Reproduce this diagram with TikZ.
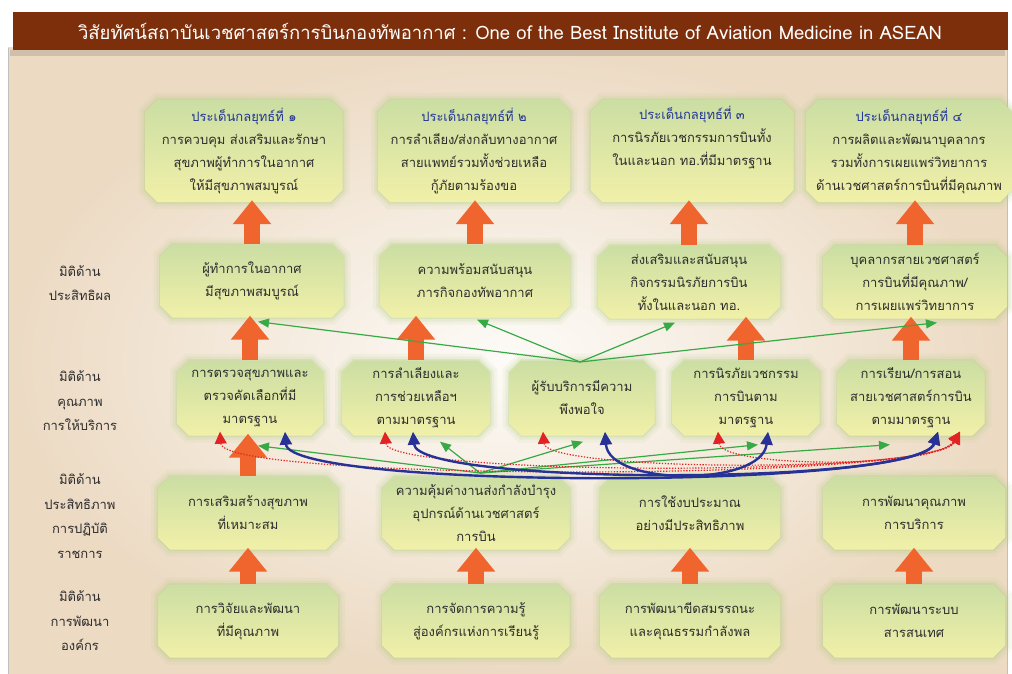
\documentclass[tikz,border=0pt]{standalone}
\usepackage{fontspec}
\newfontfamily\thaifont[Script=Thai]{Loma}
\usetikzlibrary{shapes.misc,arrows.meta,calc}
\definecolor{titlebar}{RGB}{125,47,12}
\definecolor{bgedge}{RGB}{236,218,195}
\definecolor{bgcenter}{RGB}{253,251,248}
\definecolor{boxtop}{RGB}{203,222,163}
\definecolor{boxbot}{RGB}{241,240,168}
\definecolor{glowc}{RGB}{175,205,125}
\definecolor{headblue}{RGB}{35,55,150}
\definecolor{txt}{RGB}{45,45,45}
\definecolor{arrorange}{RGB}{240,100,45}
\definecolor{lgreen}{RGB}{55,170,70}
\definecolor{dblue}{RGB}{40,50,150}
\definecolor{dred}{RGB}{225,35,35}
\newcommand\bodyfont{\thaifont\fontsize{13}{23}\selectfont}
\begin{document}
\begin{tikzpicture}[x=1pt,y=-1pt,
  box/.style={chamfered rectangle, chamfered rectangle xsep=9pt,
    top color=boxtop, bottom color=boxbot, draw=none, align=center,
    font=\bodyfont, text=txt, inner sep=1pt,
    preaction={draw=glowc, line width=14pt, draw opacity=0.10},
    preaction={draw=glowc, line width=8pt, draw opacity=0.14},
    preaction={draw=glowc, line width=3pt, draw opacity=0.25}},
  r1/.style={box, minimum height=102pt},
  r2/.style={box, minimum height=73pt},
  r3/.style={box, minimum height=75pt},
  lab/.style={align=center, text=txt, font=\thaifont\fontsize{13}{24.5}\selectfont},
  oarr/.style={arrorange, line width=16pt, -{Triangle[width=37pt,length=24pt]}},
  garr/.style={lgreen, line width=1.2pt, -{Triangle[width=9pt,length=11pt]}},
  barr/.style={dblue, line width=2.4pt, {Triangle[width=12pt,length=13pt]}-{Triangle[width=12pt,length=13pt]}},
  rarr/.style={dred, line width=1.2pt, dash pattern=on 1.3pt off 1.6pt,
    {Triangle[width=12pt,length=12pt]}-{Triangle[width=12pt,length=12pt]}}
]
\useasboundingbox (0,0) rectangle (1012,674);
\fill[white] (0,0) rectangle (1012,674);
\shade[inner color=bgcenter, outer color=bgedge] (8,48) rectangle (1007,674);
\draw[black!25, line width=1pt] (8,48) -- (8,674) (1007,48) -- (1007,674);
\fill[black, opacity=0.12] (10,50) rectangle (1005,56);
\node[fill=titlebar, minimum width=995pt, minimum height=38pt, inner sep=0pt,
  text=white, font=\thaifont\fontsize{18.5}{20}\selectfont] (title) at (510,31)
  {วิสัยทัศน์สถาบันเวชศาสตร์การบินกองทัพอากาศ : One of the Best Institute of Aviation Medicine in ASEAN};

% left labels
\node[lab] (l1) at (80,283) {มิติด้าน\\ประสิทธิผล};
\node[lab] (l2) at (80,401) {มิติด้าน\\คุณภาพ\\การให้บริการ};
\node[lab] (l3) at (80,516) {มิติด้าน\\ประสิทธิภาพ\\การปฏิบัติ\\ราชการ};
\node[lab] (l4) at (80,621) {มิติด้าน\\การพัฒนา\\องค์กร};

% row 1
\node[r1, minimum width=197pt] (b11) at (244,151) {{\color{headblue}ประเด็นกลยุทธ์ที่ ๑}\\การควบคุม ส่งเสริมและรักษา\\สุขภาพผู้ทำการในอากาศ\\ให้มีสุขภาพสมบูรณ์};
\node[r1, minimum width=192pt] (b12) at (474,151) {{\color{headblue}ประเด็นกลยุทธ์ที่ ๒}\\การลำเลียง/ส่งกลับทางอากาศ\\สายแพทย์รวมทั้งช่วยเหลือ\\กู้ภัยตามร้องขอ};
\node[r1, minimum width=203pt] (b13) at (692,151) {{\color{headblue}ประเด็นกลยุทธ์ที่ ๓}\\การนิรภัยเวชกรรมการบินทั้ง\\ในและนอก ทอ.ที่มีมาตรฐาน\\\strut};
\node[r1, minimum width=194pt] (b14) at (909,151) {{\color{headblue}ประเด็นกลยุทธ์ที่ ๔}\\การผลิตและพัฒนาบุคลากร\\รวมทั้งการเผยแพร่วิทยาการ\\ด้านเวชศาสตร์การบินที่มีคุณภาพ};

% row 2
\node[r2, minimum width=183pt] (b21) at (252,281) {ผู้ทำการในอากาศ\\มีสุขภาพสมบูรณ์};
\node[r2, minimum width=190pt] (b22) at (475,281) {ความพร้อมสนับสนุน\\ภารกิจกองทัพอากาศ};
\node[r2, minimum width=182pt] (b23) at (689,282) {ส่งเสริมและสนับสนุน\\กิจกรรมนิรภัยการบิน\\ทั้งในและนอก ทอ.};
\node[r2, minimum width=184pt] (b24) at (915,282) {บุคลากรสายเวชศาสตร์\\การบินที่มีคุณภาพ/\\การเผยแพร่วิทยาการ};

% row 3
\node[r3, minimum width=146pt] (b31) at (250,398) {การตรวจสุขภาพและ\\ตรวจคัดเลือกที่มี\\มาตรฐาน};
\node[r3, minimum width=148pt] (b32) at (416,398) {การลำเลียงและ\\การช่วยเหลือฯ\\ตามมาตรฐาน};
\node[r3, minimum width=145pt] (b33) at (582,398) {ผู้รับบริการมีความ\\พึงพอใจ};
\node[r3, minimum width=147pt] (b34) at (746,398) {การนิรภัยเวชกรรม\\การบินตาม\\มาตรฐาน};
\node[r3, minimum width=147pt] (b35) at (911,398) {การเรียน/การสอน\\สายเวชศาสตร์การบิน\\ตามมาตรฐาน};

% row 4
\node[r2, minimum width=180pt] (b41) at (248,513) {การเสริมสร้างสุขภาพ\\ที่เหมาะสม};
\node[r2, minimum width=187pt] (b42) at (476,513) {ความคุ้มค่างานส่งกำลังบำรุง\\อุปกรณ์ด้านเวชศาสตร์\\การบิน};
\node[r2, minimum width=180pt] (b43) at (690,513) {การใช้งบประมาณ\\อย่างมีประสิทธิภาพ};
\node[r2, minimum width=182pt] (b44) at (914,513) {การพัฒนาคุณภาพ\\การบริการ};

% row 5
\node[r2, minimum width=180pt] (b51) at (248,621) {การวิจัยและพัฒนา\\ที่มีคุณภาพ};
\node[r2, minimum width=187pt] (b52) at (476,621) {การจัดการความรู้\\สู่องค์กรแห่งการเรียนรู้};
\node[r2, minimum width=180pt] (b53) at (690,621) {การพัฒนาขีดสมรรถนะ\\และคุณธรรมกำลังพล};
\node[r2, minimum width=182pt] (b54) at (914,621) {การพัฒนาระบบ\\สารสนเทศ};

% orange arrows
\foreach \lo/\up in {b21/b11,b22/b12,b23/b13,b24/b14,b31/b21,b32/b22,b34/b23,b35/b24,b41/b31,b51/b41,b52/b42,b53/b43,b54/b44}
  \draw[oarr, shorten >=-2pt] (\lo.north) -- (\lo.north |- \up.south);

% green fans
\coordinate (gA) at (580,362);
\coordinate (gB) at (480,473);
\draw[garr] (gA) -- ($(b21.south)+(6,4)$);
\draw[garr] (gA) -- ($(b22.south)+(2,2)$);
\draw[garr] (gA) -- ($(b23.south)+(-14,4)$);
\draw[garr] (gA) -- ($(b24.south)+(22,4)$);
\draw[garr] (gB) -- ($(b31.south)+(8,10)$);
\draw[garr] (gB) -- ($(b32.south)+(24,6)$);
\draw[garr] (gB) -- ($(b33.south)+(1,6)$);
\draw[garr] (gB) -- ($(b34.south)+(12,9)$);
\draw[garr] (gB) -- ($(b35.south)+(-21,9)$);

% red dotted
\draw[rarr] ($(b31.south)+(-30,-4)$) .. controls +(3,50) and +(-25,50) .. ($(b35.south)+(49,-4)$);
\draw[rarr] ($(b32.south)+(-31,-4)$) .. controls +(3,44) and +(-25,46) .. ($(b35.south)+(49,-4)$);
\draw[rarr] ($(b33.south)+(-39,-4)$) .. controls +(3,40) and +(-25,42) .. ($(b35.south)+(49,-4)$);
\draw[rarr] ($(b34.south)+(-28,-4)$) .. controls +(3,36) and +(-25,38) .. ($(b35.south)+(49,-4)$);

% blue curves
\draw[barr] ($(b31.south)+(35,-4)$) .. controls +(4,58) and +(-18,58) .. ($(b35.south)+(27,-4)$);
\draw[barr] ($(b32.south)+(-3,-4)$) .. controls +(4,54) and +(-18,54) .. ($(b35.south)+(27,-4)$);
\draw[barr] ($(b33.south)+(23,-4)$) .. controls +(4,55) and +(-6,55) .. ($(b34.south)+(22,-4)$);
\end{tikzpicture}
\end{document}
